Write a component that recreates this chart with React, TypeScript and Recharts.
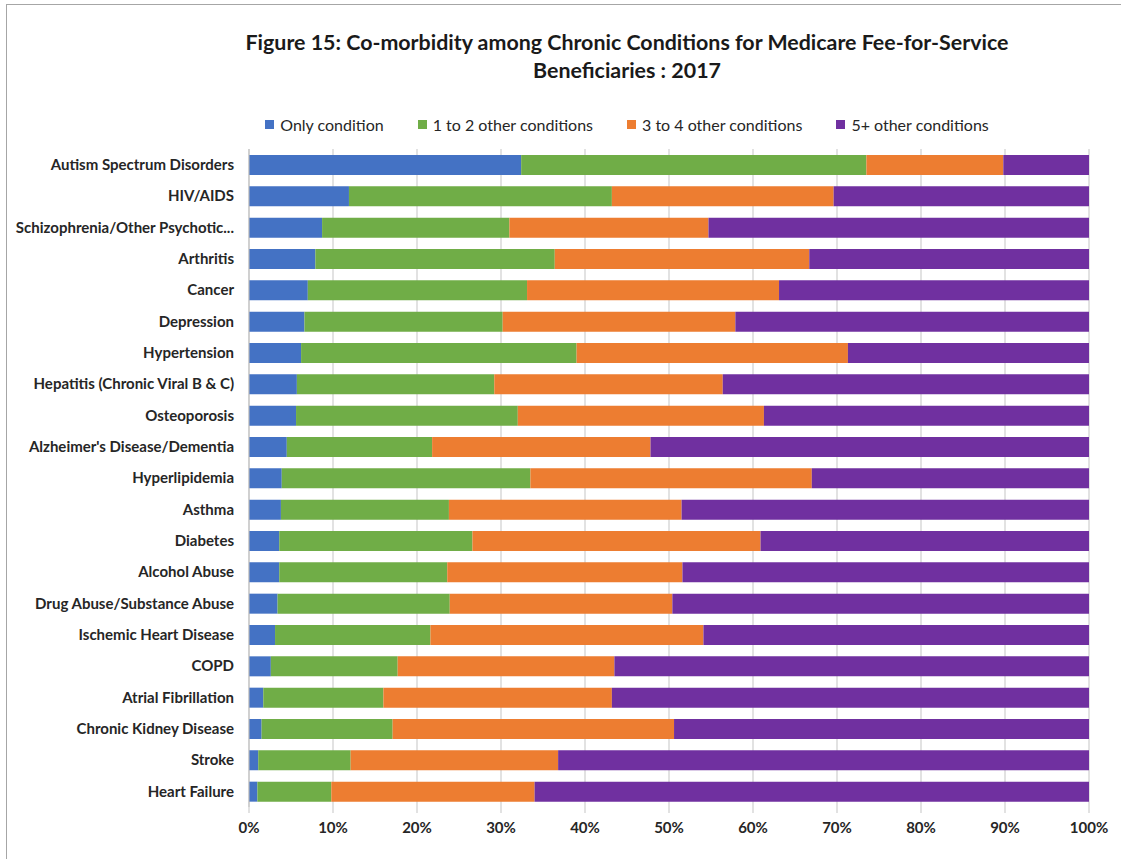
import React from "react";
import { BarChart, Bar, XAxis, YAxis, CartesianGrid, Legend } from "recharts";

const categories = [
  "Autism Spectrum Disorders",
  "HIV/AIDS",
  "Schizophrenia/Other Psychotic...",
  "Arthritis",
  "Cancer",
  "Depression ",
  "Hypertension",
  "Hepatitis (Chronic Viral B & C)",
  "Osteoporosis",
  "Alzheimer's Disease/Dementia",
  "Hyperlipidemia",
  "Asthma",
  "Diabetes",
  "Alcohol Abuse",
  "Drug Abuse/Substance Abuse",
  "Ischemic Heart Disease",
  "COPD",
  "Atrial Fibrillation",
  "Chronic Kidney Disease",
  "Stroke",
  "Heart Failure",
];

// shares in percent
const onlyCondition = [32.4, 11.9, 8.7, 7.9, 7.0, 6.6, 6.2, 5.7, 5.6, 4.5, 3.9, 3.8, 3.6, 3.6, 3.4, 3.1, 2.6, 1.7, 1.5, 1.1, 1.0];
const oneToTwo = [41.1, 31.3, 22.3, 28.5, 26.1, 23.6, 32.8, 23.5, 26.4, 17.3, 29.6, 20.0, 23.0, 20.0, 20.5, 18.5, 15.1, 14.3, 15.6, 11.0, 8.8];
const threeToFour = [16.3, 26.4, 23.7, 30.3, 30.0, 27.7, 32.3, 27.2, 29.3, 26.0, 33.5, 27.7, 34.3, 28.0, 26.5, 32.5, 25.8, 27.2, 33.5, 24.7, 24.2];
const fivePlus = [10.2, 30.4, 45.3, 33.3, 36.9, 42.1, 28.7, 43.6, 38.7, 52.2, 33.0, 48.5, 39.1, 48.4, 49.6, 45.9, 56.5, 56.8, 49.4, 63.2, 66.0];

const xTicks = [0, 10, 20, 30, 40, 50, 60, 70, 80, 90, 100];

const series = [
  { key: "only", name: "Only condition", color: "#4472C4", values: onlyCondition },
  { key: "oneTwo", name: "1 to 2 other conditions", color: "#70AD47", values: oneToTwo },
  { key: "threeFour", name: "3 to 4 other conditions", color: "#ED7D31", values: threeToFour },
  { key: "fivePlus", name: "5+ other conditions", color: "#7030A0", values: fivePlus },
];

const chartData = categories.map((name, i) => {
  const row: Record<string, any> = { name };
  series.forEach((s) => {
    row[s.key] = s.values[i];
  });
  return row;
});

const FONT = "Lato, 'Open Sans', sans-serif";

// keep legend in series order (recharts sorts by name otherwise)
const renderLegend = () => (
  <div style={{ display: "flex", justifyContent: "center", fontFamily: FONT, fontSize: 16, color: "#262626" }}>
    {series.map((s, i) => (
      <div key={s.key} style={{ display: "flex", alignItems: "center", marginRight: i < series.length - 1 ? 34 : 0 }}>
        <span style={{ width: 9, height: 9, background: s.color, display: "inline-block", marginRight: 6 }} />
        <span>{s.name}</span>
      </div>
    ))}
  </div>
);

export default function App() {
  return (
    <div style={{ position: "absolute", left: 0, top: 0, width: 1121, height: 859, background: "#fff", overflow: "hidden" }}>
      <div
        style={{
          position: "absolute", left: 6, top: 4, width: 1115, height: 855,
          borderTop: "1.5px solid #a6a6a6", borderLeft: "1.5px solid #a6a6a6",
        }}
      />
      <div
        style={{
          position: "absolute", left: 0, top: 28, width: 1254, textAlign: "center",
          fontFamily: FONT, fontWeight: 700, fontSize: 21.4, lineHeight: "28px", color: "#1a1a1a",
        }}
      >
        Figure 15: Co-morbidity among Chronic Conditions for Medicare Fee-for-Service
        <br />
        Beneficiaries : 2017
      </div>
      <BarChart
        width={1121}
        height={859}
        data={chartData}
        layout="vertical"
        margin={{ top: 149, right: 32, bottom: 22, left: 0 }}
        barSize={20}
      >
        <CartesianGrid horizontal={false} stroke="#d9d9d9" strokeWidth={1.5} />
        <XAxis
          type="number"
          domain={[0, 100]}
          ticks={xTicks}
          tickFormatter={(v) => `${v}%`}
          axisLine={false}
          tickLine={{ stroke: "#d9d9d9", strokeWidth: 1.5 }}
          tickSize={6}
          tickMargin={9}
          height={30}
          tick={{ fontSize: 15, fontWeight: 700, fill: "#262626", fontFamily: FONT }}
          interval={0}
        />
        <YAxis
          type="category"
          dataKey="name"
          width={249}
          axisLine={{ stroke: "#bfbfbf", strokeWidth: 1 }}
          tickLine={false}
          tickSize={0}
          tickMargin={15}
          interval={0}
          tick={{ fontSize: 15, fontWeight: 700, fill: "#262626", fontFamily: FONT }}
        />
        <Legend
          layout="vertical"
          verticalAlign="middle"
          align="center"
          content={renderLegend}
          wrapperStyle={{ top: 115, left: 0, width: 1254 }}
        />
        {series.map((s) => (
          <Bar key={s.key} dataKey={s.key} name={s.name} stackId="a" fill={s.color} isAnimationActive={false} />
        ))}
      </BarChart>
    </div>
  );
}
